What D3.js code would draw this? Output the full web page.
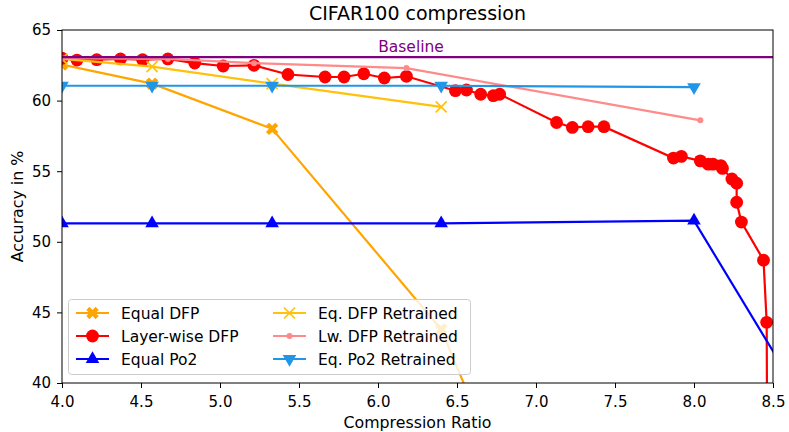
<!DOCTYPE html>
<html>
<head>
<meta charset="utf-8">
<script src="https://cdn.jsdelivr.net/npm/d3@7"></script>
<style>
  body { margin: 0; background: #fff; }
  text { font-family: "DejaVu Sans", sans-serif; }
</style>
</head>
<body>
<script>
// values
var baseline = 63.08;

var equalDfp = [[4.0, 62.55], [4.57, 61.2], [5.33, 58.0], [6.4, 43.8], [8.0, 1.0]];
var layerDfp = [
  [4.0, 63.0], [4.095, 62.87], [4.22, 62.9], [4.37, 62.95], [4.51, 62.9], [4.67, 62.95],
  [4.84, 62.66], [5.02, 62.45], [5.215, 62.5], [5.43, 61.85], [5.665, 61.67], [5.785, 61.67],
  [5.91, 61.9], [6.04, 61.6], [6.18, 61.72], [6.49, 60.7], [6.56, 60.75], [6.65, 60.45],
  [6.73, 60.35], [6.77, 60.45], [7.13, 58.45], [7.23, 58.1], [7.33, 58.15], [7.43, 58.15],
  [7.87, 55.93], [7.92, 56.05], [8.04, 55.73], [8.09, 55.5], [8.12, 55.5], [8.17, 55.4],
  [8.18, 55.2], [8.24, 54.45], [8.27, 54.15], [8.27, 52.8], [8.3, 51.4], [8.44, 48.7],
  [8.46, 44.3], [8.475, 1.0]
];
var equalPo2 = [[4.0, 51.3], [4.57, 51.3], [5.33, 51.3], [6.4, 51.3], [8.0, 51.5], [9.0, 33.0]];
var eqDfpRetrained = [[4.0, 62.95], [4.57, 62.4], [5.33, 61.2], [6.4, 59.55]];
var lwDfpRetrained = [[4.0, 63.0], [4.67, 62.95], [5.215, 62.65], [6.18, 62.3], [8.04, 58.6]];
var eqPo2Retrained = [[4.0, 61.05], [4.57, 61.05], [5.33, 61.05], [6.4, 61.05], [8.0, 60.95]];

var xTicks = [4.0, 4.5, 5.0, 5.5, 6.0, 6.5, 7.0, 7.5, 8.0, 8.5];
var yTicks = [40, 45, 50, 55, 60, 65];

var W = 789, H = 432;
var plotLeft = 62, plotRight = 773, plotTop = 30, plotBottom = 383;

var x = d3.scaleLinear().domain([4.0, 8.5]).range([plotLeft, plotRight]);
var y = d3.scaleLinear().domain([40, 65]).range([plotBottom, plotTop]);

var svg = d3.select('body').append('svg')
    .attr('width', W)
    .attr('height', H);

svg.append('defs').append('clipPath')
    .attr('id', 'plotclip')
  .append('rect')
    .attr('x', plotLeft).attr('y', plotTop)
    .attr('width', plotRight - plotLeft).attr('height', plotBottom - plotTop);

var plot = svg.append('g').attr('clip-path', 'url(#plotclip)');

var line = d3.line()
    .x(function(d) { return x(d[0]); })
    .y(function(d) { return y(d[1]); });

var series = [
  {name: 'Equal DFP', data: equalDfp, color: '#ffa500', marker: 'X'},
  {name: 'Layer-wise DFP', data: layerDfp, color: '#ff0000', marker: 'o'},
  {name: 'Equal Po2', data: equalPo2, color: '#0000ff', marker: '^'},
  {name: 'Eq. DFP Retrained', data: eqDfpRetrained, color: '#ffc10a', marker: 'x'},
  {name: 'Lw. DFP Retrained', data: lwDfpRetrained, color: '#ff8a8a', marker: '.'},
  {name: 'Eq. Po2 Retrained', data: eqPo2Retrained, color: '#2196e6', marker: 'v'}
];

function drawMarker(g, type, color) {
  if (type == 'o') {
    g.append('circle').attr('r', 6.4).attr('fill', color);
  } else if (type == '.') {
    g.append('circle').attr('r', 3).attr('fill', color);
  } else if (type == 'X') {
    g.append('path')
      .attr('d', d3.symbol().type(d3.symbolCross).size(95)())
      .attr('transform', 'rotate(45)')
      .attr('fill', color);
  } else if (type == 'x') {
    g.append('path')
      .attr('d', 'M-5.5,-5.5L5.5,5.5M-5.5,5.5L5.5,-5.5')
      .attr('stroke', color)
      .attr('stroke-width', 1.7)
      .attr('fill', 'none');
  } else if (type == '^') {
    g.append('path')
      .attr('d', d3.symbol().type(d3.symbolTriangle).size(80)())
      .attr('fill', color);
  } else if (type == 'v') {
    g.append('path')
      .attr('d', d3.symbol().type(d3.symbolTriangle).size(80)())
      .attr('transform', 'rotate(180)')
      .attr('fill', color);
  }
}

series.forEach(function(s) {
  plot.append('path')
    .datum(s.data)
    .attr('d', line)
    .attr('fill', 'none')
    .attr('stroke', s.color)
    .attr('stroke-width', 2.2);
  s.data.forEach(function(d) {
    var g = plot.append('g')
      .attr('transform', 'translate(' + x(d[0]) + ',' + y(d[1]) + ')');
    drawMarker(g, s.marker, s.color);
  });
});

// baseline
plot.append('line')
  .attr('x1', plotLeft).attr('x2', plotRight)
  .attr('y1', y(baseline)).attr('y2', y(baseline))
  .attr('stroke', '#800080')
  .attr('stroke-width', 2.2);

svg.append('text')
  .attr('x', 411)
  .attr('y', 52)
  .attr('text-anchor', 'middle')
  .attr('fill', '#800080')
  .style('font-size', '15.5px')
  .text('Baseline');

// axes
var xaxis = d3.axisBottom(x).tickValues(xTicks).tickFormat(d3.format('.1f')).tickSize(5).tickPadding(8);
svg.append('g')
  .attr('transform', 'translate(0,' + plotBottom + ')')
  .call(xaxis);

var yaxis = d3.axisLeft(y).tickValues(yTicks).tickFormat(d3.format('d')).tickSize(5).tickPadding(6);
svg.append('g')
  .attr('transform', 'translate(' + plotLeft + ',0)')
  .call(yaxis);

svg.selectAll('.tick text').style('font-size', '15px').attr('fill', '#000');
svg.selectAll('.tick line').attr('stroke', '#000');
svg.selectAll('.domain').remove();

svg.append('rect')
  .attr('x', plotLeft).attr('y', plotTop)
  .attr('width', plotRight - plotLeft).attr('height', plotBottom - plotTop)
  .attr('fill', 'none')
  .attr('stroke', '#000')
  .attr('stroke-width', 1);

svg.append('text')
  .attr('x', (plotLeft + plotRight) / 2)
  .attr('y', 20)
  .attr('text-anchor', 'middle')
  .style('font-size', '19px')
  .text('CIFAR100 compression');

svg.append('text')
  .attr('x', (plotLeft + plotRight) / 2)
  .attr('y', 428)
  .attr('text-anchor', 'middle')
  .style('font-size', '15.8px')
  .text('Compression Ratio');

svg.append('text')
  .attr('transform', 'translate(23,' + ((plotTop + plotBottom) / 2) + ') rotate(-90)')
  .attr('text-anchor', 'middle')
  .style('font-size', '15.8px')
  .text('Accuracy in %');

// legend
var legend = svg.append('g');
legend.append('rect')
  .attr('x', 68.5).attr('y', 299.5)
  .attr('width', 402).attr('height', 75)
  .attr('rx', 3)
  .attr('fill', 'rgba(255,255,255,0.8)')
  .attr('stroke', '#cccccc');

series.forEach(function(s, i) {
  var col = Math.floor(i / 3), row = i % 3;
  var lx = 76 + col * 197, ly = 313 + row * 23;
  legend.append('line')
    .attr('x1', lx).attr('x2', lx + 33)
    .attr('y1', ly).attr('y2', ly)
    .attr('stroke', s.color)
    .attr('stroke-width', 2.2);
  var g = legend.append('g').attr('transform', 'translate(' + (lx + 16.5) + ',' + ly + ')');
  drawMarker(g, s.marker, s.color);
  legend.append('text')
    .attr('x', lx + 45)
    .attr('y', ly + 5.5)
    .style('font-size', '15.5px')
    .text(s.name);
});
</script>
</body>
</html>
